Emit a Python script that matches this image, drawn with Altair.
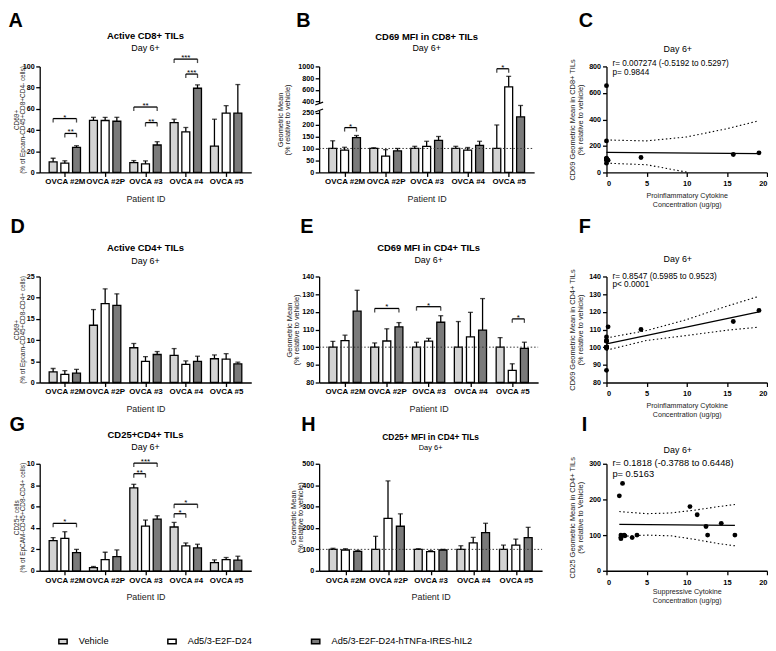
import altair as alt
import pandas as pd

FONT = "Liberation Sans"

PATIENTS = ["OVCA #2M", "OVCA #2P", "OVCA #3", "OVCA #4", "OVCA #5"]
TREATMENTS = ["Vehicle", "Ad5/3-E2F-D24", "Ad5/3-E2F-D24-hTNFa-IRES-hIL2"]
BAR_COLORS = ["#d3d3d3", "#ffffff", "#7a7a7a"]

# ---- A: Active CD8+ TILs (mean, SD)
A_VEH = [10.0, 49.2, 9.3, 47.0, 24.9]
A_VEH_SD = [3.4, 2.8, 1.9, 3.2, 25.3]
A_D24 = [8.7, 49.0, 8.1, 38.3, 56.0]
A_D24_SD = [2.3, 3.0, 2.8, 4.1, 7.0]
A_TNF = [23.7, 48.3, 25.9, 79.4, 56.0]
A_TNF_SD = [1.5, 3.7, 3.1, 3.2, 26.9]
A_SIG = [(0, 0, 2, 50.8, "*"), (0, 1, 2, 36.8, "**"), (2, 0, 2, 61.7, "**"),
         (2, 1, 2, 47.0, "**"), (3, 0, 2, 106.9, "***"), (3, 1, 2, 92.8, "***")]

# ---- B: CD69 MFI in CD8+ TILs
B_VEH = [100, 100, 100, 100, 100]
B_VEH_SD = [32, 3, 9, 9, 98]
B_D24 = [93, 68, 109, 93, 650]
B_D24_SD = [12, 27, 21, 11, 180]
B_TNF = [145, 90, 134, 113, 232]
B_TNF_SD = [9, 10, 16, 17, 113]
B_SIG = [(0, 1, 2, 187, "*"), (4, 0, 1, 960, "*")]

# ---- D: Active CD4+ TILs
D_VEH = [2.5, 13.5, 8.2, 6.4, 5.6]
D_VEH_SD = [0.8, 3.7, 1.0, 1.6, 0.9]
D_D24 = [1.9, 18.6, 5.0, 4.3, 5.5]
D_D24_SD = [0.9, 3.5, 1.1, 0.8, 1.3]
D_TNF = [2.2, 18.2, 6.6, 5.0, 4.4]
D_TNF_SD = [0.9, 2.7, 0.7, 1.2, 0.4]
D_SIG = []

# ---- E: CD69 MFI in CD4+ TILs
E_VEH = [100, 100, 100, 100, 100]
E_VEH_SD = [3.3, 2.4, 2.8, 14.5, 5.4]
E_D24 = [103.7, 103.5, 103.4, 105.8, 86.9]
E_D24_SD = [3.1, 6.9, 1.6, 13.9, 3.7]
E_TNF = [120.4, 111.5, 114.1, 109.7, 99.3]
E_TNF_SD = [11.8, 2.4, 3.7, 17.8, 3.5]
E_SIG = [(1, 0, 2, 121.9, "*"), (2, 0, 2, 122.9, "*"), (4, 1, 2, 116.0, "*")]

# ---- G: CD25+CD4+ TILs
G_VEH = [2.82, 0.30, 7.74, 4.09, 0.77]
G_VEH_SD = [0.28, 0.10, 0.34, 0.43, 0.25]
G_D24 = [3.03, 1.05, 4.18, 2.32, 1.05]
G_D24_SD = [0.62, 0.68, 0.56, 0.28, 0.19]
G_TNF = [1.70, 1.33, 4.83, 2.14, 0.99]
G_TNF_SD = [0.30, 0.62, 0.31, 0.34, 0.37]
G_SIG = [(0, 0, 2, 4.43, "*"), (2, 0, 2, 10.06, "***"), (2, 0, 1, 9.07, "**"),
         (3, 0, 2, 6.22, "*"), (3, 0, 1, 5.33, "*")]

# ---- H: CD25+ MFI in CD4+ TILs
H_VEH = [100, 100, 100, 100, 100]
H_VEH_SD = [5, 61, 3, 17, 20]
H_D24 = [97, 245, 89, 130, 120]
H_D24_SD = [6, 175, 5, 26, 28]
H_TNF = [91, 208, 97, 178, 155]
H_TNF_SD = [4, 58, 3, 44, 48]
H_SIG = []

# ---- C: correlation (CD69 MFI CD8+ vs proinflammatory cytokine)
C_X = [0, 0, 0, 0, 0, 0, 0, 0, 0, 0, 19.0, 0.2, 15.8, 4.3, 0]
C_Y = [100, 100, 100, 100, 100, 93, 70, 107, 95, 655, 148, 92, 135, 113, 238]
C_FIT_X = [0, 19]
C_FIT_Y = [152, 142]
C_UP_X = [0, 5, 10, 15, 19]
C_UP_Y = [245, 238, 268, 330, 390]
C_LO_X = [0, 5, 10.2]
C_LO_Y = [70, 58, 0]

# ---- F: correlation (CD69 MFI CD4+ vs proinflammatory cytokine)
F_X = [0, 0, 0, 0, 0, 0, 0, 0, 0, 0, 19.0, 0.2, 15.8, 4.3, 0]
F_Y = [100, 100, 100, 100, 100, 103.7, 103.5, 103.4, 105.8, 86.9, 120.8, 111.5, 114.5, 110.0, 99.4]
F_FIT_X = [0, 19]
F_FIT_Y = [101.8, 120.0]
F_UP_X = [0, 5, 10, 15, 19]
F_UP_Y = [105.2, 109.4, 115.6, 123.2, 128.8]
F_LO_X = [0, 5, 10, 15, 19]
F_LO_Y = [98.3, 103.8, 106.6, 109.6, 111.3]

# ---- I: correlation (CD25 MFI CD4+ vs suppressive cytokine)
I_X = [1.8, 2.2, 3.8, 12.6, 16.0, 2.3, 2.0, 1.8, 14.3, 12.4, 1.8, 1.6, 3.2, 10.4, 11.3]
I_Y = [100, 100, 100, 100, 100, 98, 245, 90, 133, 124, 94, 210, 93, 180, 157]
I_FIT_X = [1.6, 16.0]
I_FIT_Y = [130, 127]
I_UP_X = [1.6, 5, 8, 11, 14, 16]
I_UP_Y = [166, 160, 162, 170, 180, 186]
I_LO_X = [1.6, 5, 8, 11, 14, 16]
I_LO_Y = [96, 100, 98, 88, 76, 70]

OFFS = [-0.29, 0.0, 0.29]
LABEL_EXPR = "[" + ",".join("'" + p + "'" for p in PATIENTS) + "][datum.value]"
YLAB = 7.2

LEGEND = alt.Legend(
    title=None, orient="none", legendX=18.5, legendY=575, direction="horizontal",
    symbolType="M-1,-0.55H1V0.55H-1Z", symbolSize=70, symbolStrokeColor="black",
    symbolStrokeWidth=1.5, labelFont=FONT, labelFontSize=9.3, labelColor="black",
    labelOffset=11, columnPadding=56, padding=0,
)


def txt(text, x, y, size, weight="normal", align="center"):
    return alt.Chart(pd.DataFrame({"t": [text]})).mark_text(
        font=FONT, fontSize=size, fontWeight=weight, align=align,
        baseline="alphabetic", color="black",
    ).encode(text="t:N", x=alt.value(x), y=alt.value(y))


def bar_frame(series):
    rows = []
    for g, (means, sds) in enumerate(series):
        for i, p in enumerate(PATIENTS):
            rows.append({"patient": p, "treatment": TREATMENTS[g], "pos": i + OFFS[g],
                         "mean": means[i], "top": means[i] + sds[i]})
    return pd.DataFrame(rows)


def sig_frame(sig):
    rows = []
    for i, g1, g2, hgt, lab in sig:
        x1, x2 = i + OFFS[g1], i + OFFS[g2]
        rows.append({"x1": x1, "x2": x2, "xm": (x1 + x2) / 2, "h": hgt, "lab": lab})
    return pd.DataFrame(rows)


def bar_panel(p):
    w, h, oy = p["w"], p["h"], p.get("oy", 0)
    df = bar_frame(p["series"])
    xs = alt.Scale(domain=[-0.5, 4.5], range=[0, w], nice=False, zero=False)
    if "yrange" in p:
        ys = alt.Scale(domain=p["ydom"], range=[v + oy for v in p["yrange"]], nice=False, zero=False)
    else:
        ys = alt.Scale(domain=p["ydom"], range=[oy + h, oy], nice=False, zero=False)
    xaxis = alt.Axis(values=[0, 1, 2, 3, 4], tickCount=20, labelExpr=LABEL_EXPR, title="Patient ID",
                     titleX=w / 2, titleY=22, titleBaseline="top", titleFontSize=9,
                     titleFontWeight="normal", labelFontSize=8, labelPadding=1.5,
                     labelOverlap=False)
    yaxis = alt.Axis(values=p["yvals"], tickCount=20, format="d", title=p["ytitle"],
                     titleX=p["ytx"], titleY=oy + h / 2,
                     titleAngle=270, titleAlign="center", titleBaseline="bottom",
                     titleFontSize=p.get("ytsize", 7), titleLineHeight=p.get("ytsize", 7),
                     titleFontWeight="normal", labelFontSize=YLAB, labelPadding=1.5,
                     labelOverlap=False, labelBound=False)
    bars = alt.Chart(df).mark_bar(width=8, stroke="black", strokeWidth=1.3, orient="vertical").encode(
        x=alt.X("pos:Q", scale=xs, axis=xaxis),
        y=alt.Y("mean:Q", scale=ys, axis=yaxis),
        y2=alt.datum(p.get("base", 0)),
        fill=alt.Fill("treatment:N", scale=alt.Scale(domain=TREATMENTS, range=BAR_COLORS), legend=LEGEND),
    )
    layers = [bars]
    if p.get("ref"):
        layers.append(alt.Chart(pd.DataFrame({"r": [100]})).mark_rule(
            color="#333333", strokeWidth=1, strokeDash=[1.5, 2]).encode(
            x=alt.value(0), x2=alt.value(w), y=alt.Y("r:Q", scale=ys)))
    layers.append(alt.Chart(df).mark_rule(color="black", strokeWidth=1.3).encode(
        x=alt.X("pos:Q", scale=xs), y=alt.Y("mean:Q", scale=ys), y2="top:Q"))
    layers.append(alt.Chart(df).mark_tick(color="black", thickness=1.3, size=5, orient="horizontal").encode(
        x=alt.X("pos:Q", scale=xs), y=alt.Y("top:Q", scale=ys)))
    if p["sig"]:
        sdf = sig_frame(p["sig"])
        layers.append(alt.Chart(sdf).mark_rule(color="black", strokeWidth=1.3).encode(
            x=alt.X("x1:Q", scale=xs), x2="x2:Q", y=alt.Y("h:Q", scale=ys)))
        for col in ["x1", "x2"]:
            layers.append(alt.Chart(sdf).mark_tick(color="black", thickness=1.3, size=4,
                                                   orient="vertical", yOffset=2).encode(
                x=alt.X(col + ":Q", scale=xs), y=alt.Y("h:Q", scale=ys)))
        layers.append(alt.Chart(sdf).mark_text(font=FONT, fontSize=8, color="black",
                                               baseline="alphabetic", dy=1).encode(
            x=alt.X("xm:Q", scale=xs), y=alt.Y("h:Q", scale=ys), text="lab:N"))
    if p.get("brk"):
        y1, y2 = p["brk"]
        layers.append(alt.Chart(pd.DataFrame({"a": [0]})).mark_rect(color="white").encode(
            x=alt.value(-3), x2=alt.value(3), y=alt.value(oy + y1), y2=alt.value(oy + y2)))
        for yy in (y1, y2):
            layers.append(alt.Chart(pd.DataFrame({"a": [0]})).mark_rule(
                color="black", strokeWidth=1.2).encode(
                x=alt.value(-4), x2=alt.value(4), y=alt.value(oy + yy + 1.5), y2=alt.value(oy + yy - 1.5)))
    layers.append(txt(p["letter"], p["lx"], oy + p["ly"], 20, "bold", "left"))
    layers.append(txt(p["title"], w / 2, oy + p["ty"], p.get("tsize", 9.5), "bold"))
    layers.append(txt("Day 6+", w / 2, oy + p["sy"], p.get("ssize", 9)))
    return alt.layer(*layers).properties(width=p["gw"], height=h + oy)


def scatter_panel(p):
    w, h, oy = p["w"], p["h"], p.get("oy", 0)
    xs = alt.Scale(domain=[0, 20], range=[0, w], nice=False, zero=False)
    ys = alt.Scale(domain=p["ydom"], range=[oy + h, oy], nice=False, zero=False)
    xaxis = alt.Axis(values=[0, 5, 10, 15, 20], tickCount=20, format="d", title=p["xtitle"],
                     titleX=w / 2, titleY=p["xty"],
                     titleBaseline="top", titleFontSize=7.2, titleLineHeight=9,
                     titleFontWeight="normal", labelFontSize=7.5, labelPadding=3.5,
                     labelOverlap=False)
    yaxis = alt.Axis(values=p["yvals"], tickCount=20, format="d", title=p["ytitle"], titleX=-30,
                     titleY=oy + h / 2,
                     titleAngle=270, titleAlign="center", titleBaseline="bottom",
                     titleFontSize=7.5, titleLineHeight=7.5, titleFontWeight="normal",
                     labelFontSize=YLAB, labelPadding=2, labelOverlap=False, labelBound=False)
    pts = pd.DataFrame({"x": p["x"], "y": p["y"]})
    fit = pd.DataFrame({"x": p["fitx"], "y": p["fity"]})
    up = pd.DataFrame({"x": p["upx"], "y": p["upy"]})
    lo = pd.DataFrame({"x": p["lox"], "y": p["loy"]})
    layers = [
        alt.Chart(pts).mark_circle(size=24, color="black", opacity=1).encode(
            x=alt.X("x:Q", scale=xs, axis=xaxis), y=alt.Y("y:Q", scale=ys, axis=yaxis)),
        alt.Chart(fit).mark_line(color="black", strokeWidth=1.3).encode(
            x=alt.X("x:Q", scale=xs), y=alt.Y("y:Q", scale=ys)),
        alt.Chart(up).mark_line(color="black", strokeWidth=1.1, strokeDash=[1.5, 2.5]).encode(
            x=alt.X("x:Q", scale=xs), y=alt.Y("y:Q", scale=ys)),
        alt.Chart(lo).mark_line(color="black", strokeWidth=1.1, strokeDash=[1.5, 2.5]).encode(
            x=alt.X("x:Q", scale=xs), y=alt.Y("y:Q", scale=ys)),
        txt(p["letter"], p["lx"], oy + p["ly"], 20, "bold", "left"),
        txt("Day 6+", 72, oy + p["ty"], 9),
        txt(p["ann1"], 6, oy + p["ay1"], p["asize"], "normal", "left"),
        txt(p["ann2"], 6, oy + p["ay2"], p["asize"], "normal", "left"),
    ]
    return alt.layer(*layers).properties(width=p["gw"], height=h + oy)


ROW2_OY = 23

A = bar_panel(dict(letter="A", lx=-31.5, ly=-40, title="Active CD8+ TILs", ty=-27.6, sy=-15.8,
                   series=[(A_VEH, A_VEH_SD), (A_D24, A_D24_SD), (A_TNF, A_TNF_SD)], sig=A_SIG,
                   ydom=[0, 100], yvals=[0, 20, 40, 60, 80, 100],
                   ytitle=["CD69+", "(% of Epcam-CD45+CD8+CD4- cells)"], ytx=-20.5, ytsize=6.5,
                   w=213.5, gw=218.5, h=107))
B = bar_panel(dict(letter="B", lx=-23, ly=-40, title="CD69 MFI in CD8+ TILs", ty=-26.6, sy=-15.8,
                   series=[(B_VEH, B_VEH_SD), (B_D24, B_D24_SD), (B_TNF, B_TNF_SD)], sig=B_SIG,
                   ydom=[0, 250, 400, 1000], yrange=[107, 46.5, 35.3, 0],
                   yvals=[0, 50, 100, 150, 200, 250, 400, 600, 800, 1000],
                   ytitle=["Geometric Mean", "(% relative to vehicle)"], ytx=-35, ytsize=7.5,
                   w=217, gw=222, h=107, ref=True, brk=(37.5, 44.5)))
C = scatter_panel(dict(letter="C", lx=-28, ly=-40, ty=-14.8, x=C_X, y=C_Y, fitx=C_FIT_X, fity=C_FIT_Y,
                       upx=C_UP_X, upy=C_UP_Y, lox=C_LO_X, loy=C_LO_Y, ydom=[0, 800],
                       yvals=[0, 200, 400, 600, 800],
                       ytitle=["CD69 Geometric Mean in CD8+ TILs", "(% relative to vehicle)"],
                       xtitle=["Proinflammatory Cytokine", "Concentration (ug/pg)"], xty=19,
                       ann1="r= 0.007274 (-0.5192 to 0.5297)", ann2="p= 0.9844", asize=8.3,
                       ay1=-0.5, ay2=8.5, w=162, gw=162, h=107))

D = bar_panel(dict(letter="D", lx=-29.5, ly=-44, title="Active CD4+ TILs", ty=-25.6, sy=-12.8,
                   series=[(D_VEH, D_VEH_SD), (D_D24, D_D24_SD), (D_TNF, D_TNF_SD)], sig=D_SIG,
                   ydom=[0, 25], yvals=[0, 5, 10, 15, 20, 25],
                   ytitle=["CD69+", "(% of Epcam-CD45+CD8-CD4+ cells)"], ytx=-20.5, ytsize=6.5,
                   w=213.5, gw=213.5, h=107, oy=ROW2_OY))
E = bar_panel(dict(letter="E", lx=-19, ly=-44, title="CD69 MFI in CD4+ TILs", ty=-25.6, sy=-13.8,
                   series=[(E_VEH, E_VEH_SD), (E_D24, E_D24_SD), (E_TNF, E_TNF_SD)], sig=E_SIG,
                   ydom=[80, 140], yvals=[80, 90, 100, 110, 120, 130, 140], base=80,
                   ytitle=["Geometric Mean", "(% relative to vehicle)"], ytx=-26, ytsize=7.5,
                   w=221, gw=227, h=107, oy=ROW2_OY, ref=True))
F = scatter_panel(dict(letter="F", lx=-28, ly=-44, ty=-14.8, x=F_X, y=F_Y, fitx=F_FIT_X, fity=F_FIT_Y,
                       upx=F_UP_X, upy=F_UP_Y, lox=F_LO_X, loy=F_LO_Y, ydom=[80, 140],
                       yvals=[80, 90, 100, 110, 120, 130, 140],
                       ytitle=["CD69 Geometric Mean in CD4+ TILs", "(% relative to vehicle)"],
                       xtitle=["Proinflammatory Cytokine", "Concentration (ug/pg)"], xty=19,
                       ann1="r= 0.8547 (0.5985 to 0.9523)", ann2="p< 0.0001", asize=8.3,
                       ay1=3, ay2=11, w=162, gw=162, h=107, oy=ROW2_OY))

G = bar_panel(dict(letter="G", lx=-30.5, ly=-33, title="CD25+CD4+ TILs", ty=-25.6, sy=-13.8,
                   series=[(G_VEH, G_VEH_SD), (G_D24, G_D24_SD), (G_TNF, G_TNF_SD)], sig=G_SIG,
                   ydom=[0, 10], yvals=[0, 2, 4, 6, 8, 10],
                   ytitle=["CD25+ cells", "(% of EpCAM-CD45+CD8-CD4+ cells)"], ytx=-20.5, ytsize=6.5,
                   w=213.5, gw=213.5, h=108))
H = bar_panel(dict(letter="H", lx=-18, ly=-33, title="CD25+ MFI in CD4+ TILs", tsize=8.5, ty=-24,
                   sy=-14.3, ssize=7.5,
                   series=[(H_VEH, H_VEH_SD), (H_D24, H_D24_SD), (H_TNF, H_TNF_SD)], sig=H_SIG,
                   ydom=[0, 500], yvals=[0, 100, 200, 300, 400, 500],
                   ytitle=["Geometric Mean", "(% relative to vehicle)"], ytx=-22, ytsize=7.5,
                   w=225, gw=227, h=108, ref=True))
I = scatter_panel(dict(letter="I", lx=-25, ly=-33, ty=-10.8, x=I_X, y=I_Y, fitx=I_FIT_X, fity=I_FIT_Y,
                       upx=I_UP_X, upy=I_UP_Y, lox=I_LO_X, loy=I_LO_Y, ydom=[0, 300],
                       yvals=[0, 100, 200, 300],
                       ytitle=["CD25 Geometric Mean in CD4+ TILs", "(% relative to Vehicle)"],
                       xtitle=["Suppressive Cytokine", "Concentration (ug/pg)"], xty=17,
                       ann1="r= 0.1818 (-0.3788 to 0.6448)", ann2="p= 0.5163", asize=9.4,
                       ay1=2.4, ay2=13.4, w=162, gw=162, h=108))

chart = alt.concat(A, B, C, D, E, F, G, H, I, columns=3,
                   spacing={"row": 82, "column": 63}, bounds="flush", align="none").properties(padding=0)

chart = chart.configure_view(strokeWidth=0).configure_axis(
    grid=False, domainColor="black", domainWidth=1.3, tickColor="black", tickWidth=1.3,
    tickSize=4, labelFont=FONT, labelFontWeight="bold", labelColor="black",
    titleFont=FONT, titleColor="#222222", labelOverlap=False,
)

chart.save("out.html", embed_options={"renderer": "svg", "actions": False})
